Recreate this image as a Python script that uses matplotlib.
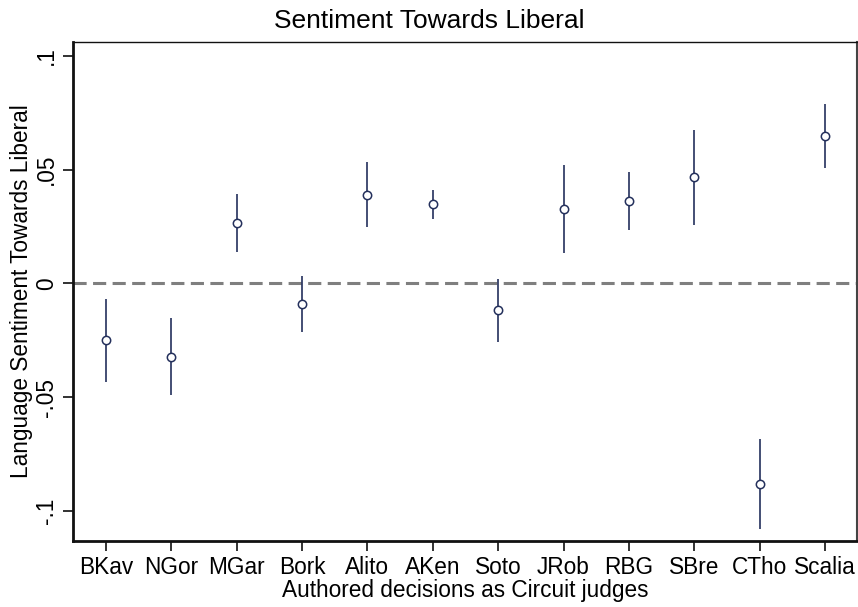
import matplotlib
matplotlib.use("Agg")
import matplotlib.pyplot as plt
import numpy as np

judges = ["BKav", "NGor", "MGar", "Bork", "Alito", "AKen", "Soto", "JRob", "RBG", "SBre", "CTho", "Scalia"]
estimate = [-0.0251, -0.0322, 0.0264, -0.0093, 0.0388, 0.0348, -0.0119, 0.0326, 0.0361, 0.0467, -0.0881, 0.0648]
ci_low = [-0.0432, -0.0493, 0.0137, -0.0216, 0.0247, 0.0282, -0.0256, 0.0132, 0.0233, 0.0256, -0.1080, 0.0507]
ci_high = [-0.0070, -0.0154, 0.0392, 0.0031, 0.0533, 0.0410, 0.0018, 0.0520, 0.0489, 0.0674, -0.0683, 0.0789]
yticks = [-0.1, -0.05, 0, 0.05, 0.1]
ytick_labels = ["-.1", "-.05", "0", ".05", ".1"]

plt.rcParams['font.family'] = ['Liberation Sans', 'DejaVu Sans']
navy = "#24305c"
fs = 16.3

fig = plt.figure(figsize=(8.58, 6.07), dpi=100)
ax = fig.add_axes([0.0851, 0.1087, 0.9137, 0.8221])

x = np.arange(len(judges))
ax.axhline(0, color="#7f7f7f", lw=2.2, ls=(0, (4.3, 2.1)), zorder=1)
ax.vlines(x, ci_low, ci_high, color=navy, lw=1.2, zorder=2)
ax.plot(x, estimate, ls="none", marker="o", ms=6, mfc="white", mec=navy, mew=1.1, zorder=3)

ax.set_xlim(-0.505, 11.49)
ax.set_ylim(-0.1133, 0.1061)
ax.set_xticks(x)
ax.set_xticklabels(judges, fontsize=fs)
ax.set_yticks(yticks)
ax.set_yticklabels(ytick_labels, fontsize=fs, rotation=90, va="center")
ax.tick_params(axis="both", direction="out", length=7, width=1.3, color="#222222")
ax.tick_params(axis="y", pad=4)
ax.tick_params(axis="x", pad=4)

for s in ["left", "bottom"]:
    ax.spines[s].set_linewidth(2.0)
    ax.spines[s].set_color("#111111")
ax.spines["top"].set_linewidth(1.0)
ax.spines["top"].set_color("#111111")
ax.spines["right"].set_linewidth(1.5)
ax.spines["right"].set_color("#444444")

ax.set_xlabel("Authored decisions as Circuit judges", fontsize=fs, labelpad=0)
ax.set_ylabel("Language Sentiment Towards Liberal", fontsize=fs, labelpad=1)
fig.suptitle("Sentiment Towards Liberal", fontsize=19, x=0.5, y=0.985, va="top")

fig.savefig("out.png", dpi=100)
